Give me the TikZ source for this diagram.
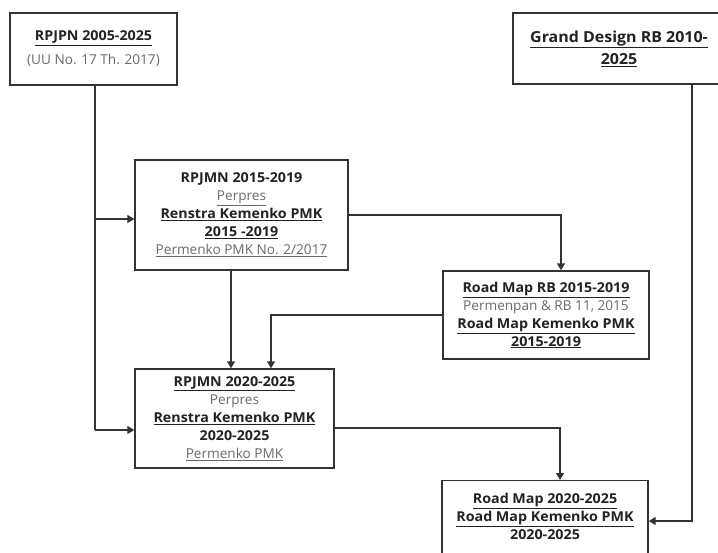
\documentclass[tikz,border=0pt]{standalone}
\usepackage{fontspec}
\setmainfont{Open Sans}[BoldFeatures={FakeStretch=1.05}]
\usetikzlibrary{arrows.meta}
\definecolor{txt}{HTML}{222222}
\definecolor{sub}{HTML}{6A6A6A}
\definecolor{ln}{HTML}{333333}
\tikzset{
  boxnode/.style={draw=ln, line width=1.4pt, fill=white, align=center, inner sep=2pt,
    font=\fontsize{13.6}{18}\selectfont, text=txt},
  thickbox/.style={boxnode, line width=2pt},
  conn/.style={draw=ln, line width=1.4pt},
  arr/.style={conn, -{Triangle[width=8pt,length=7pt]}}
}
\newcommand{\ttl}[1]{\underline{\textbf{#1}}}
\newcommand{\subt}[1]{{\color{sub}#1}}
\begin{document}
\begin{tikzpicture}[x=1pt,y=-1pt]
\useasboundingbox (0,0) rectangle (718,552);
\fill[white] (0,0) rectangle (718,552);

\node[thickbox, minimum width=167pt, minimum height=72pt] (A) at (93.5,49)
  {\ttl{RPJPN 2005-2025}\\[6pt] \subt{(UU No. 17 Th. 2017)}};
\node[thickbox, minimum width=212pt, minimum height=71pt, font=\fontsize{15.2}{22}\selectfont] (B) at (619,48.5)
  {\ttl{Grand Design RB 2010-}\\ \ttl{2025}};
\node[boxnode, minimum width=213pt, minimum height=110pt] (C) at (241.5,215)
  {\textbf{RPJMN 2015-2019}\\ \subt{\underline{Perpres}}\\ \ttl{Renstra Kemenko PMK}\\ \ttl{2015 -2019}\\ \subt{\underline{Permenko PMK No. 2/2017}}};
\node[boxnode, minimum width=206pt, minimum height=88pt] (D) at (546,315)
  {\ttl{Road Map RB 2015-2019}\\ \subt{Permenpan \& RB 11, 2015}\\ \ttl{Road Map Kemenko PMK}\\ \ttl{2015-2019}};
\node[boxnode, minimum width=199pt, minimum height=99pt] (E) at (234.5,418.5)
  {\ttl{RPJMN 2020-2025}\\ \subt{Perpres}\\ \ttl{Renstra Kemenko PMK}\\ \textbf{2020-2025}\\ \subt{\underline{Permenko PMK}}};
\node[boxnode, minimum width=206pt, minimum height=90pt, anchor=north] (F) at (545,480)
  {\ttl{Road Map 2020-2025}\\ \ttl{Road Map Kemenko PMK}\\ \textbf{2020-2025}\\[0pt]};

% connectors
\coordinate (a1) at (95,219);
\coordinate (a2) at (95,430);
\draw[conn] ([xshift=1.5pt]A.south) -- (a2);
\draw[arr] (a1) -- (a1 -| C.west);
\draw[arr] (a2) -- (a2 -| E.west);

\coordinate (c1) at (231,0);
\draw[arr] (C.south -| c1) -- (E.north -| c1);

\coordinate (c2) at (561,215);
\draw[arr] (C.east |- c2) -| (D.north -| c2);

\coordinate (d1) at (271,315);
\draw[arr] (D.west |- d1) -| (E.north -| d1);

\coordinate (e1) at (560,428);
\draw[arr] (E.east |- e1) -| (F.north -| e1);

\coordinate (b1) at (692,521);
\draw[arr] (B.south -| b1) |- (F.east |- b1);
\end{tikzpicture}
\end{document}
